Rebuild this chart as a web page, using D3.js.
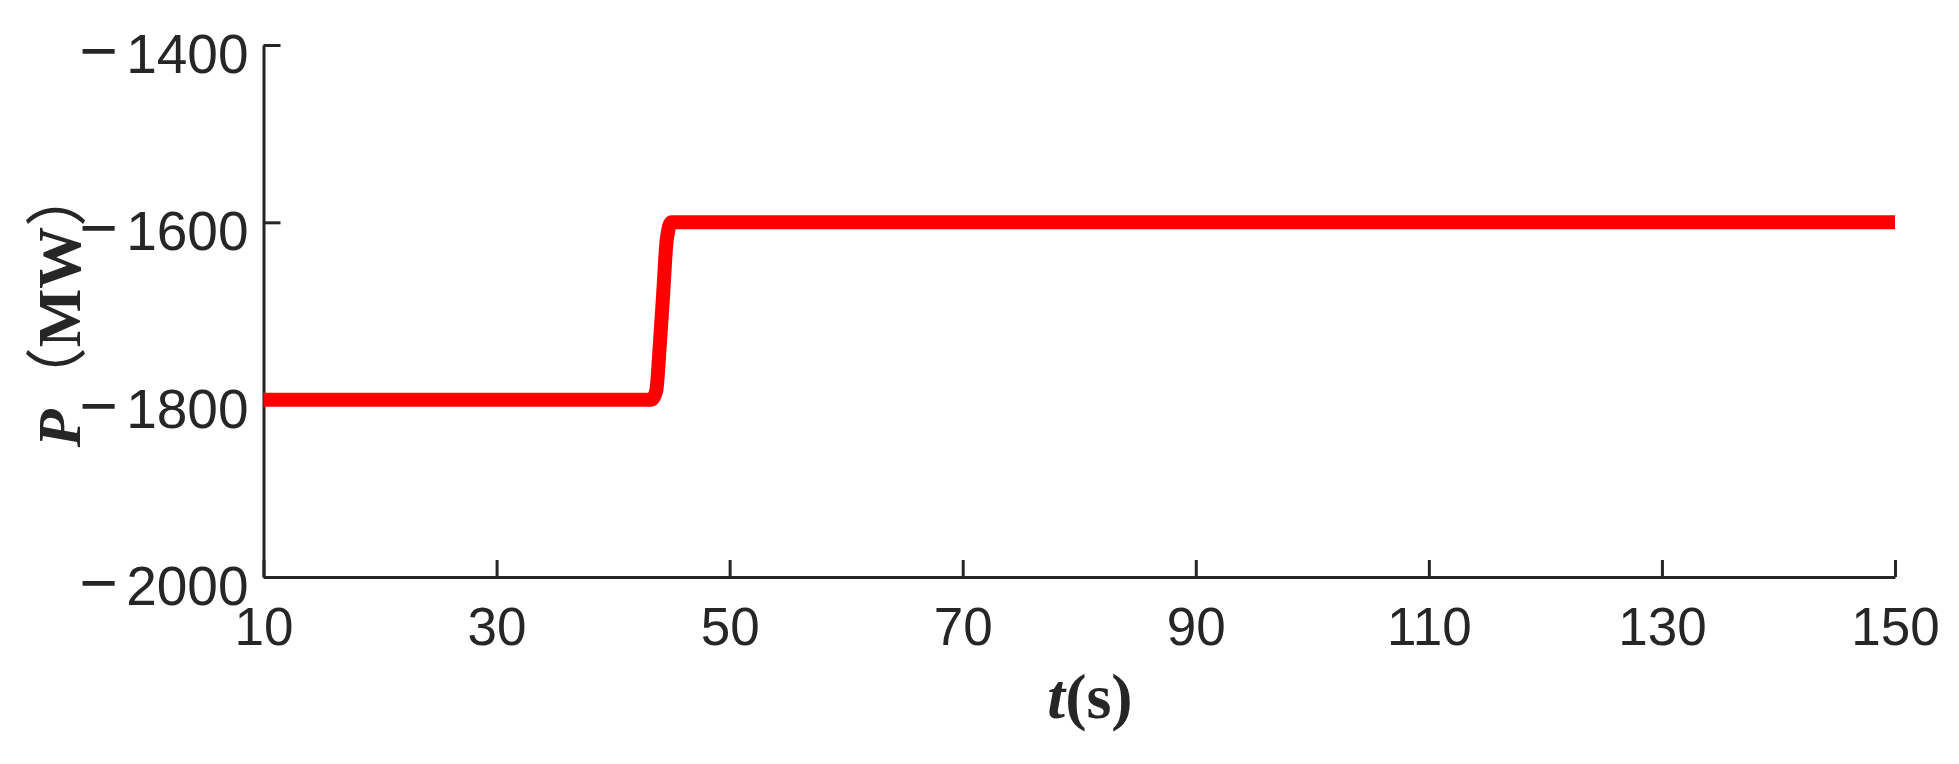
<!DOCTYPE html>
<html>
<head>
<meta charset="utf-8">
<script src="https://cdn.jsdelivr.net/npm/d3@7"></script>
<style>
  html, body { margin: 0; padding: 0; background: #fff; }
  svg { display: block; }
</style>
</head>
<body>
<svg id="chart" width="1959" height="764"></svg>
<script>
// Data
const timeValues  = [10, 20, 30, 43.3, 43.7, 44.0, 44.3, 44.6, 45.0, 60, 90, 120, 150];
const powerValues = [-1800, -1800, -1800, -1800, -1790, -1740, -1680, -1620, -1600, -1600, -1600, -1600, -1600];
const xTicks = [10, 30, 50, 70, 90, 110, 130, 150];
const yTicks = [-2000, -1800, -1600, -1400];
const xTitleVar = "t";
const xTitleUnit = "(s)";
const yTitleVar = "P";
const yTitleUnit = "MW";

(function () {
const svg = d3.select("#chart");
const pLeft = 263.5, pRight = 1895, pTop = 45, pBottom = 577;
const axisColor = "#262626";

const x = d3.scaleLinear().domain([10, 150]).range([pLeft, pRight]);
const y = d3.scaleLinear().domain([-2000, -1400]).range([pBottom, pTop]);

// Y axis
const gy = svg.append("g").attr("transform", `translate(${pLeft},0)`)
  .call(d3.axisLeft(y).tickValues(yTicks).tickSizeInner(-17).tickSizeOuter(0).tickPadding(15).tickFormat(() => ""));
// X axis
const gx = svg.append("g").attr("transform", `translate(0,${pBottom})`)
  .call(d3.axisBottom(x).tickValues(xTicks).tickSizeInner(-17).tickSizeOuter(0).tickPadding(30).tickFormat(d3.format("d")));

[gx, gy].forEach(g => {
  g.select(".domain").attr("stroke", axisColor).attr("stroke-width", 3);
  g.selectAll(".tick line").attr("stroke", axisColor).attr("stroke-width", 3);
  g.selectAll(".tick text")
    .attr("fill", axisColor)
    .attr("font-family", "'Liberation Sans', Arial, sans-serif")
    .attr("font-size", 53);
});
gx.selectAll(".tick text").attr("dy", "0.71em");
// y tick labels: wider minus sign, as in the reference
gy.selectAll(".tick text").attr("font-size", 55).attr("dy", "0.5em").each(function (d) {
  const t = d3.select(this);
  if (d < 0) {
    t.append("tspan").attr("font-size", 66).text("\u2212");
    t.append("tspan").attr("dx", 8).text(String(Math.abs(d)));
  } else {
    t.text(String(d));
  }
});

// Data line
const line = d3.line().x((d, i) => x(timeValues[i])).y((d, i) => y(powerValues[i]))
  .curve(d3.curveMonotoneX);
svg.append("path")
  .datum(powerValues)
  .attr("d", line)
  .attr("fill", "none")
  .attr("stroke", "#ff0000")
  .attr("stroke-width", 14)
  .attr("stroke-linecap", "butt")
  .attr("stroke-linejoin", "round");

// X title
const xt = svg.append("text")
  .attr("x", 1090).attr("y", 718)
  .attr("text-anchor", "middle")
  .attr("font-family", "'Liberation Serif', 'Times New Roman', serif")
  .attr("font-weight", "bold")
  .attr("font-size", 64)
  .attr("fill", axisColor);
xt.append("tspan").attr("font-style", "italic").text(xTitleVar);
xt.append("tspan").text(xTitleUnit);

// Y title
const yt = svg.append("text")
  .attr("transform", "translate(80,306) rotate(-90)")
  .attr("text-anchor", "middle")
  .attr("font-family", "'Liberation Serif', 'Times New Roman', serif")
  .attr("font-weight", "bold")
  .attr("font-size", 62)
  .attr("fill", axisColor);
yt.append("tspan").attr("font-style", "italic").text(yTitleVar);
yt.append("tspan").attr("font-family", "'Noto Sans CJK SC', sans-serif").attr("font-weight", "normal").text("\uFF08");
yt.append("tspan").text(yTitleUnit);
yt.append("tspan").attr("font-family", "'Noto Sans CJK SC', sans-serif").attr("font-weight", "normal").text("\uFF09");
})();
</script>
</body>
</html>
